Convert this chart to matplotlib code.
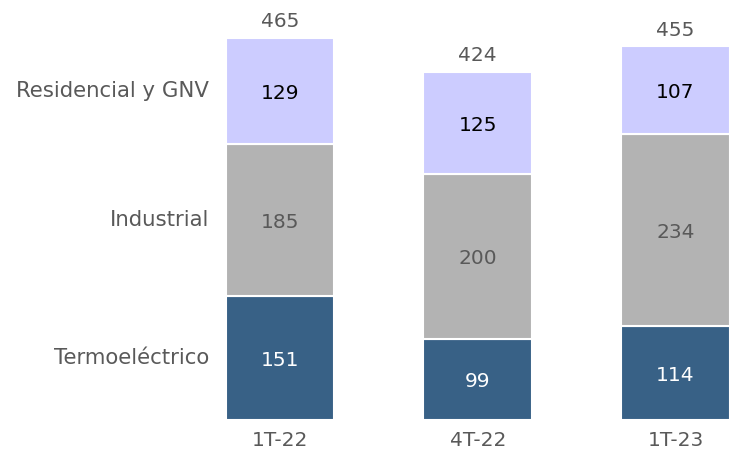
import matplotlib
matplotlib.use("Agg")
import matplotlib.pyplot as plt
import numpy as np

# Datos por trimestre
periodos = ["1T-22", "4T-22", "1T-23"]
termoelectrico = [151, 99, 114]
industrial = [185, 200, 234]
residencial = [129, 125, 107]
totales = [465, 424, 455]
segmentos = ["Termoeléctrico", "Industrial", "Residencial y GNV"]

colores = ["#386186", "#b3b3b3", "#ccccff"]
colores_txt = ["white", "#595959", "black"]
gris = "#595959"

plt.rcParams["font.family"] = ["DejaVu Sans"]

fig = plt.figure(figsize=(7.29, 4.51), dpi=100)
ax = fig.add_axes([0, 0, 1, 1])

x = np.arange(len(periodos))
ancho = 0.55
base = np.zeros(len(periodos))
series = [termoelectrico, industrial, residencial]
for serie, color, ctxt in zip(series, colores, colores_txt):
    vals = np.array(serie)
    ax.bar(x, vals, ancho, bottom=base, color=color, edgecolor="white", linewidth=1.5)
    for xi, b, v in zip(x, base, vals):
        ax.text(xi, b + v / 2 - 3, str(v), ha="center", va="center", fontsize=14.5, color=ctxt)
    base = base + vals

# totales encima de cada barra
for xi, t in zip(x, totales):
    ax.text(xi, t + 8, str(t), ha="center", va="bottom", fontsize=14.5, color=gris)

# etiquetas de periodo bajo las barras
for xi, p in zip(x, periodos):
    ax.text(xi, -13, p, ha="center", va="top", fontsize=14.5, color=gris)

# nombres de segmentos a la izquierda, a la altura de la primera barra
b = 0
for nombre, serie in zip(segmentos, series):
    ax.text(-0.36, b + serie[0] / 2, nombre, ha="right", va="center", fontsize=15.3, color=gris)
    b += serie[0]

ax.set_xlim(-280 / 197.75, (729 - 280) / 197.75)
ax.set_ylim(-31 / 0.8215, 420 / 0.8215)
ax.axis("off")

fig.savefig("out.png", dpi=100)
